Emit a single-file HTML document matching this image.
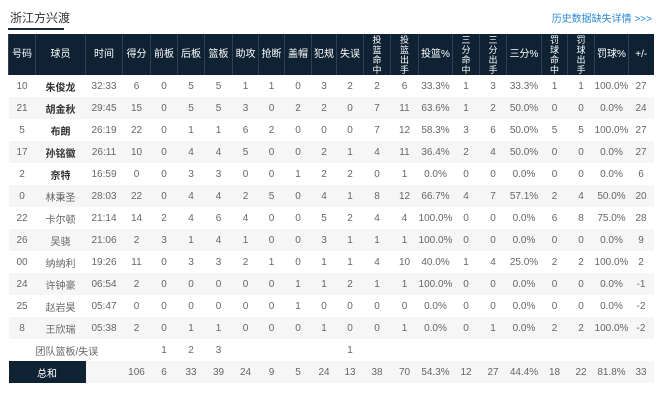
<!DOCTYPE html>
<html><head><meta charset="utf-8"><style>
body{margin:0;width:660px;height:406px;background:#fff;font-family:"Liberation Sans","Noto Sans CJK SC",sans-serif;position:relative;overflow:hidden}
#title{position:absolute;left:10px;top:9px;font-size:12px;color:#333}
#title-line{position:absolute;left:8px;top:28px;width:56px;height:2px;background:#1a2a3a}
#link{position:absolute;right:8px;top:10px;font-size:10px;color:#2a8ad8}
table{position:absolute;left:8px;top:34px;border-collapse:collapse;table-layout:fixed;width:645px;font-size:10px;color:#666}
th{background:#0e2233;color:#fff;font-weight:normal;height:41px;padding:0;border-left:1px solid #2c4052;line-height:10px;text-align:center;overflow:hidden}
th.v{font-size:9px;line-height:10px}
th.v span{display:block;height:10px;line-height:10px}
td{height:22px;padding:0;text-align:center;white-space:nowrap}
tr.alt td{background:#f6f6f6}
td.b{font-weight:bold;color:#333}
td.dark{background:#0e2233!important;color:#fff}
</style></head><body>
<div id="title">浙江方兴渡</div>
<div id="title-line"></div>
<div id="link">历史数据缺失详情 &gt;&gt;&gt;</div>
<table>
<colgroup><col style="width:27px"><col style="width:50px"><col style="width:37px"><col style="width:28px"><col style="width:27px"><col style="width:27px"><col style="width:28px"><col style="width:26px"><col style="width:26px"><col style="width:27px"><col style="width:25px"><col style="width:27px"><col style="width:27px"><col style="width:28px"><col style="width:34px"><col style="width:27px"><col style="width:27px"><col style="width:35px"><col style="width:26px"><col style="width:27px"><col style="width:34px"><col style="width:25px"></colgroup>
<thead><tr style="height:41px"><th>号码</th><th>球员</th><th>时间</th><th>得分</th><th>前板</th><th>后板</th><th>篮板</th><th>助攻</th><th>抢断</th><th>盖帽</th><th>犯规</th><th>失误</th><th class="v"><span>投</span><span>篮</span><span>命</span><span>中</span></th><th class="v"><span>投</span><span>篮</span><span>出</span><span>手</span></th><th>投篮%</th><th class="v"><span>三</span><span>分</span><span>命</span><span>中</span></th><th class="v"><span>三</span><span>分</span><span>出</span><span>手</span></th><th>三分%</th><th class="v"><span>罚</span><span>球</span><span>命</span><span>中</span></th><th class="v"><span>罚</span><span>球</span><span>出</span><span>手</span></th><th>罚球%</th><th>+/-</th></tr></thead>
<tbody id="tb"></tbody></table>
<script>
const rows=[
["10","朱俊龙","32:33","6","0","5","5","1","1","0","3","2","2","6","33.3%","1","3","33.3%","1","1","100.0%","27"],
["21","胡金秋","29:45","15","0","5","5","3","0","2","2","0","7","11","63.6%","1","2","50.0%","0","0","0.0%","24"],
["5","布朗","26:19","22","0","1","1","6","2","0","0","0","7","12","58.3%","3","6","50.0%","5","5","100.0%","27"],
["17","孙铭徽","26:11","10","0","4","4","5","0","0","2","1","4","11","36.4%","2","4","50.0%","0","0","0.0%","27"],
["2","奈特","16:59","0","0","3","3","0","0","1","2","2","0","1","0.0%","0","0","0.0%","0","0","0.0%","6"],
["0","林秉圣","28:03","22","0","4","4","2","5","0","4","1","8","12","66.7%","4","7","57.1%","2","4","50.0%","20"],
["22","卡尔顿","21:14","14","2","4","6","4","0","0","5","2","4","4","100.0%","0","0","0.0%","6","8","75.0%","28"],
["26","吴骁","21:06","2","3","1","4","1","0","0","3","1","1","1","100.0%","0","0","0.0%","0","0","0.0%","9"],
["00","纳纳利","19:26","11","0","3","3","2","1","0","1","1","4","10","40.0%","1","4","25.0%","2","2","100.0%","2"],
["24","许钟豪","06:54","2","0","0","0","0","0","1","1","2","1","1","100.0%","0","0","0.0%","0","0","0.0%","-1"],
["25","赵岩昊","05:47","0","0","0","0","0","0","1","0","0","0","0","0.0%","0","0","0.0%","0","0","0.0%","-2"],
["8","王欣瑞","05:38","2","0","1","1","0","0","0","1","0","0","1","0.0%","0","1","0.0%","2","2","100.0%","-2"],
["","团队篮板/失误","","","1","2","3","","","","","1","","","","","","","","","",""]
];
const totals=["总和","","106","6","33","39","24","9","5","24","13","38","70","54.3%","12","27","44.4%","18","22","81.8%","33"];
const tb=document.getElementById('tb');
rows.forEach((r,i)=>{
 const tr=document.createElement('tr');
 
 
 if(i%2==1)tr.className='alt';
 r.forEach((v,j)=>{const td=document.createElement('td');td.textContent=v;if(j==1&&i<5)td.className='b';tr.appendChild(td);});
 tb.appendChild(tr);
});
const tr=document.createElement('tr');


tr.className='alt';
totals.forEach((v,j)=>{const td=document.createElement('td');td.textContent=v;if(j==0){td.colSpan=2;td.className='dark';}tr.appendChild(td);});
tb.appendChild(tr);
</script>
</body></html>
